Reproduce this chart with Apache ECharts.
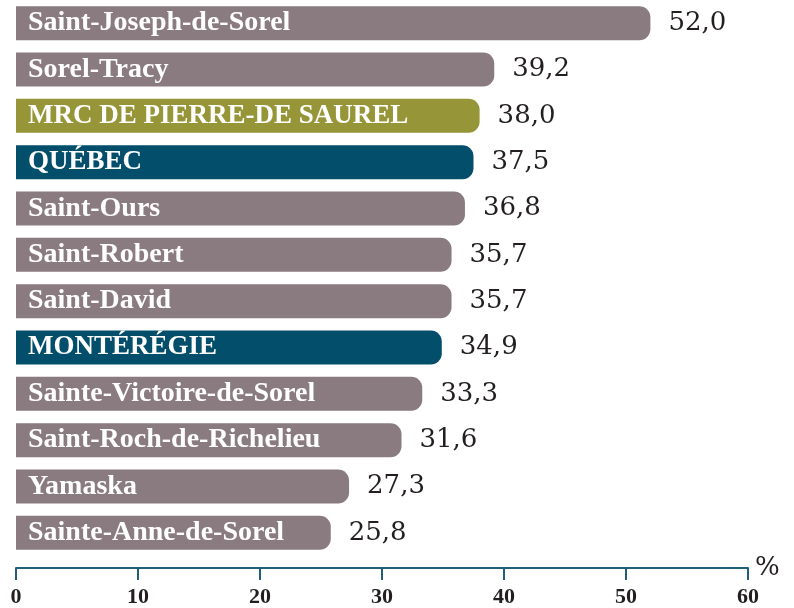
<!DOCTYPE html>
<html>
<head>
<meta charset="utf-8">
<script src="https://cdn.jsdelivr.net/npm/echarts@6/dist/echarts.min.js"></script>
<style>
  html, body { margin: 0; padding: 0; background: #fff; }
  #chart { width: 794px; height: 608px; }
</style>
</head>
<body>
<div id="chart"></div>
<script>
const categories = [
  'Saint-Joseph-de-Sorel', 'Sorel-Tracy', 'MRC DE PIERRE-DE SAUREL', 'QUÉBEC',
  'Saint-Ours', 'Saint-Robert', 'Saint-David', 'MONTÉRÉGIE',
  'Sainte-Victoire-de-Sorel', 'Saint-Roch-de-Richelieu', 'Yamaska', 'Sainte-Anne-de-Sorel'
]
const values = [52.0, 39.2, 38.0, 37.5, 36.8, 35.7, 35.7, 34.9, 33.3, 31.6, 27.3, 25.8]
// m = municipality, r = MRC, p = province / region
const kinds = ['m', 'm', 'r', 'p', 'm', 'm', 'm', 'p', 'm', 'm', 'm', 'm']
const xTicks = [0, 10, 20, 30, 40, 50, 60]

const colors = { m: '#8a7b80', r: '#969537', p: '#034e6b' }
const serif = '"Liberation Serif", serif'

const chart = echarts.init(document.getElementById('chart'))

chart.setOption({
  animation: false,
  grid: { left: 16, right: 46, top: -4, height: 561 },
  xAxis: {
    type: 'value',
    min: xTicks[0],
    max: xTicks[xTicks.length - 1],
    interval: 10,
    offset: 12,
    name: '%',
    nameLocation: 'end',
    nameGap: 7,
    nameTextStyle: { fontFamily: 'DejaVu Serif', fontSize: 26, color: '#231f20' },
    axisLine: { show: true, lineStyle: { color: '#1f5f7a', width: 2 } },
    axisTick: { show: true, length: 12, lineStyle: { color: '#1f5f7a', width: 2 } },
    axisLabel: {
      margin: 18,
      fontFamily: serif,
      fontWeight: 'bold',
      fontSize: 22,
      color: '#231f20'
    },
    splitLine: { show: false }
  },
  yAxis: {
    type: 'category',
    data: categories,
    inverse: true,
    axisLine: { show: false },
    axisTick: { show: false },
    axisLabel: { show: false }
  },
  series: [
    {
      type: 'bar',
      barWidth: 34,
      data: values.map((v, i) => ({
        value: v,
        itemStyle: { color: colors[kinds[i]] },
        label: kinds[i] === 'm' ? {} : { fontSize: 27 }
      })),
      itemStyle: { borderRadius: [0, 11, 11, 0] },
      label: {
        show: true,
        position: 'insideLeft',
        distance: 12,
        formatter: '{b}',
        fontFamily: serif,
        fontWeight: 'bold',
        fontSize: 28,
        color: '#fff'
      }
    },
    {
      type: 'bar',
      barWidth: 34,
      barGap: '-100%',
      data: values,
      itemStyle: { color: 'rgba(0,0,0,0)' },
      label: {
        show: true,
        position: 'right',
        distance: 18,
        formatter: p => p.value.toFixed(1).replace('.', ','),
        fontFamily: 'DejaVu Serif',
        fontSize: 26,
        color: '#231f20'
      }
    }
  ]
})
</script>
</body>
</html>
